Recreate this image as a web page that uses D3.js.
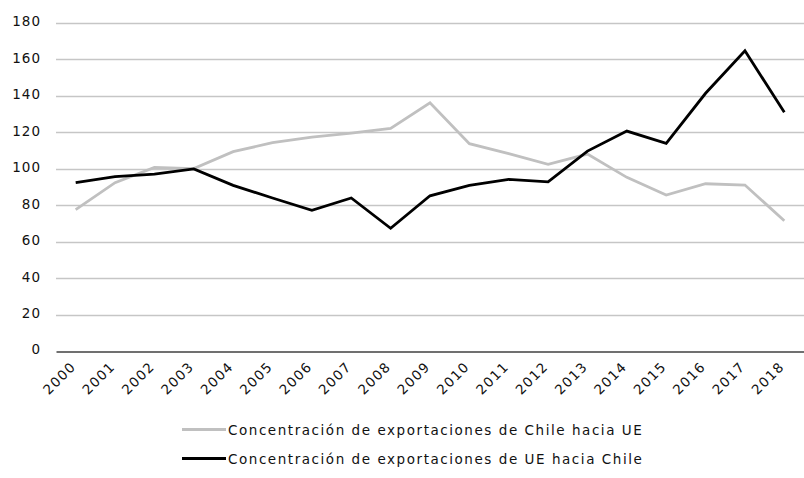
<!DOCTYPE html>
<html><head><meta charset="utf-8">
<script src="https://cdn.jsdelivr.net/npm/d3@7"></script>
<style>body{margin:0;background:#fff}svg{display:block}text{font-family:"DejaVu Sans",sans-serif;fill:#111}</style>
</head><body>
<script>
const years = ["2000","2001","2002","2003","2004","2005","2006","2007","2008","2009","2010","2011","2012","2013","2014","2015","2016","2017","2018"];
const chileToUE = [77.5,92.3,100.7,100,109.3,114.2,117.3,119.5,122.1,136.1,113.7,108.2,102.4,108,95.2,85.5,91.7,91,71.4];
const ueToChile = [92.3,95.6,97,99.8,90.8,83.9,77.1,83.9,67.3,85.1,90.8,94.1,92.7,109.6,120.6,113.9,141.3,164.6,130.9];
const yTicks = [0,20,40,60,80,100,120,140,160,180];
const seriesNames = ["Concentración de exportaciones de Chile hacia UE","Concentración de exportaciones de UE hacia Chile"];
const seriesColors = ["#c0c0c0","#000000"];

const W=804,H=478;
const FONT='"DejaVu Sans",sans-serif';
const svg=d3.select("body").append("svg").attr("width",W).attr("height",H);
const x=d3.scaleBand().domain(years).range([56,804]);
const y=d3.scaleLinear().domain([0,180]).range([351,22.7]);

// gridlines
svg.append("g").selectAll("line").data(yTicks.filter(d=>d>0)).join("line")
  .attr("x1",56).attr("x2",804).attr("y1",d=>Math.round(y(d))+0.5).attr("y2",d=>Math.round(y(d))+0.5)
  .attr("stroke","#c6c6c6").attr("stroke-width",1.3);
// y labels
const ya=svg.append("g").attr("transform","translate(41,0)")
  .call(d3.axisLeft(y).tickValues(yTicks).tickSize(0).tickPadding(0));
ya.select(".domain").remove();
ya.selectAll("text").attr("font-size",13.5).attr("fill","#111").style("font-family",FONT)
  .style("letter-spacing","1px").attr("dy","0.22em");

// x axis
const xa=svg.append("g").attr("transform","translate(0,351.5)")
  .call(d3.axisBottom(x).tickSize(0).tickPadding(0));
xa.select(".domain").attr("stroke","#404040").attr("stroke-width",1.3);
xa.selectAll("text").attr("font-size",13.5).attr("fill","#111").style("font-family",FONT)
  .style("letter-spacing","1.3px")
  .attr("text-anchor","end").attr("dy",0).attr("y",0)
  .attr("transform","translate(1,16) rotate(-45)");

const line=d3.line().x((d,i)=>x(years[i])+x.bandwidth()/2).y(d=>y(d));
[chileToUE,ueToChile].forEach((s,i)=>{
  svg.append("path").datum(s).attr("d",line).attr("fill","none")
    .attr("stroke",seriesColors[i]).attr("stroke-width",2.8).attr("stroke-linejoin","miter");
});

// legend
const lg=svg.append("g");
[0,1].forEach(i=>{
  const yy=429.5+i*29;
  lg.append("line").attr("x1",182).attr("x2",226).attr("y1",yy).attr("y2",yy)
    .attr("stroke",seriesColors[i]).attr("stroke-width",3);
  lg.append("text").attr("x",228).attr("y",yy+5).attr("font-size",13.5)
    .style("letter-spacing","1.55px").text(seriesNames[i]);
});
</script>
</body></html>
